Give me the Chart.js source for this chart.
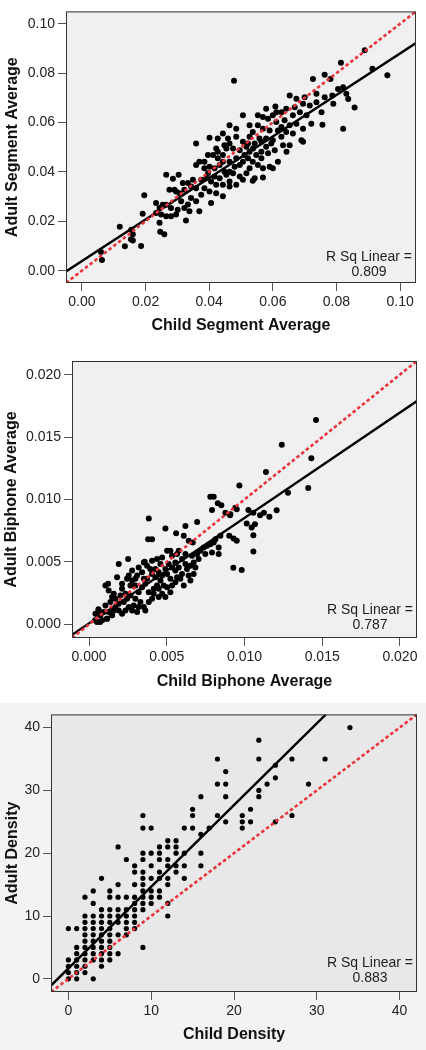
<!DOCTYPE html>
<html>
<head>
<meta charset="utf-8">
<script src="https://cdn.jsdelivr.net/npm/chart.js@4/dist/chart.umd.min.js"></script>
<style>
  html, body { margin: 0; padding: 0; background: #ffffff; }
  #wrap { position: relative; width: 426px; height: 1050px; overflow: hidden; }
  canvas { position: absolute; left: 0; }
  #segmentChart { top: 0; }
  #biphoneChart { top: 340px; }
  #densityBand { position: absolute; left: 0; top: 703px; width: 426px; height: 347px; background: #f3f3f3; }
  #densityChart { top: 703px; }
</style>
</head>
<body>
<div id="wrap">
  <canvas id="segmentChart" width="426" height="340"></canvas>
  <canvas id="biphoneChart" width="426" height="360"></canvas>
  <div id="densityBand"></div>
  <canvas id="densityChart" width="426" height="347"></canvas>
</div>
<script>
// Child vs adult scatter panels (segment, biphone, density)

// --- panel 1: segment average [child, adult] ---
const segmentPairs = [
    [0.0478, 0.0769], [0.0726, 0.0776], [0.0763, 0.0793], [0.0781, 0.0776], [0.0653, 0.0709],
    [0.0674, 0.0696], [0.0695, 0.0676], [0.0716, 0.0669], [0.0737, 0.0682], [0.0763, 0.0702],
    [0.0787, 0.0709], [0.0805, 0.0736], [0.0821, 0.0743], [0.0831, 0.0716], [0.0790, 0.0676],
    [0.0753, 0.0642], [0.0756, 0.0591], [0.0821, 0.0575], [0.0608, 0.0665], [0.0642, 0.0656],
    [0.0627, 0.0642], [0.0663, 0.0629], [0.0685, 0.0642], [0.0706, 0.0629], [0.0721, 0.0595],
    [0.0695, 0.0575], [0.0674, 0.0595], [0.0653, 0.0589], [0.0642, 0.0562], [0.0663, 0.0555],
    [0.0690, 0.0528], [0.0695, 0.0522], [0.0506, 0.0629], [0.0553, 0.0629], [0.0569, 0.0622],
    [0.0585, 0.0615], [0.0600, 0.0629], [0.0611, 0.0602], [0.0553, 0.0589], [0.0527, 0.0589],
    [0.0537, 0.0562], [0.0569, 0.0575], [0.0590, 0.0568], [0.0616, 0.0568], [0.0627, 0.0542],
    [0.0600, 0.0528], [0.0579, 0.0535], [0.0558, 0.0535], [0.0527, 0.0542], [0.0506, 0.0522],
    [0.0485, 0.0542], [0.0459, 0.0535], [0.0464, 0.0515], [0.0454, 0.0495], [0.0448, 0.0508],
    [0.0401, 0.0538], [0.0359, 0.0515], [0.0422, 0.0495], [0.0427, 0.0482], [0.0412, 0.0468],
    [0.0443, 0.0468], [0.0475, 0.0495], [0.0496, 0.0488], [0.0517, 0.0502], [0.0538, 0.0495],
    [0.0564, 0.0482], [0.0585, 0.0475], [0.0606, 0.0488], [0.0616, 0.0441], [0.0590, 0.0421],
    [0.0600, 0.0415], [0.0569, 0.0415], [0.0553, 0.0428], [0.0537, 0.0441], [0.0522, 0.0455],
    [0.0506, 0.0441], [0.0485, 0.0455], [0.0464, 0.0441], [0.0443, 0.0441], [0.0433, 0.0428],
    [0.0417, 0.0415], [0.0401, 0.0421], [0.0369, 0.0441], [0.0359, 0.0428], [0.0396, 0.0395],
    [0.0417, 0.0381], [0.0433, 0.0374], [0.0454, 0.0388], [0.0475, 0.0395], [0.0496, 0.0381],
    [0.0517, 0.0395], [0.0485, 0.0348], [0.0464, 0.0341], [0.0443, 0.0348], [0.0422, 0.0348],
    [0.0406, 0.0361], [0.0391, 0.0374], [0.0375, 0.0368], [0.0349, 0.0368], [0.0343, 0.0341],
    [0.0333, 0.0355], [0.0359, 0.0334], [0.0385, 0.0334], [0.0401, 0.0321], [0.0422, 0.0314],
    [0.0443, 0.0301], [0.0464, 0.0361], [0.0506, 0.0368], [0.0537, 0.0364], [0.0569, 0.0377],
    [0.0406, 0.0274], [0.0369, 0.0241], [0.0317, 0.0355], [0.0322, 0.0328], [0.0307, 0.0314],
    [0.0296, 0.0321], [0.0265, 0.0388], [0.0286, 0.0372], [0.0304, 0.0388], [0.0275, 0.0328],
    [0.0291, 0.0328], [0.0312, 0.0281], [0.0322, 0.0254], [0.0333, 0.0268], [0.0343, 0.0294],
    [0.0359, 0.0281], [0.0338, 0.0241], [0.0327, 0.0203], [0.0301, 0.0247], [0.0280, 0.0254],
    [0.0265, 0.0267], [0.0254, 0.0267], [0.0244, 0.0254], [0.0233, 0.0274], [0.0249, 0.0227],
    [0.0265, 0.0220], [0.0280, 0.0220], [0.0296, 0.0227], [0.0233, 0.0234], [0.0244, 0.0194],
    [0.0246, 0.0158], [0.0259, 0.0147], [0.0196, 0.0305], [0.0191, 0.0230], [0.0160, 0.0147],
    [0.0154, 0.0127], [0.0186, 0.0100], [0.0522, 0.0515], [0.0543, 0.0515], [0.0496, 0.0428],
    [0.0527, 0.0415], [0.0548, 0.0468], [0.0564, 0.0455], [0.0579, 0.0502], [0.0595, 0.0515],
    [0.0627, 0.0582], [0.0637, 0.0609], [0.0669, 0.0662], [0.0700, 0.0702], [0.0737, 0.0716],
    [0.0511, 0.0468], [0.0480, 0.0421], [0.0448, 0.0401], [0.0427, 0.0455], [0.0385, 0.0415],
    [0.0375, 0.0307], [0.0543, 0.0374], [0.0063, 0.0043], [0.0060, 0.0076], [0.0119, 0.0178],
    [0.0135, 0.0099], [0.0155, 0.0166], [0.0160, 0.0122], [0.0889, 0.0893], [0.0913, 0.0818],
    [0.0960, 0.0791], [0.0857, 0.0661], [0.0837, 0.0695], [0.0814, 0.0842], [0.0464, 0.0589],
    [0.0485, 0.0575], [0.0443, 0.0555], [0.0427, 0.0535], [0.0632, 0.0508], [0.0643, 0.0482],
    [0.0653, 0.0508], [0.0396, 0.0468], [0.0385, 0.0441], [0.0464, 0.0401], [0.0527, 0.0482],
    [0.0564, 0.0522], [0.0611, 0.0642], [0.0579, 0.0656]
];
const segmentFitX = [-0.005, 0.105];
const segmentFitY = [-0.0003, 0.0922];
const segmentTicks = [0.00, 0.02, 0.04, 0.06, 0.08, 0.10];
const segmentTickLabels = ['0.00', '0.02', '0.04', '0.06', '0.08', '0.10'];
const segmentRange = [-0.005, 0.105];
const segmentR2 = '0.809';

// --- panel 2: biphone average [child, adult] ---
const biphonePairs = [
    [0.00041, 0.00085], [0.00062, 0.00111], [0.00094, 0.00098], [0.00116, 0.00045], [0.00148, 0.00072],
    [0.00105, 0.00151], [0.00137, 0.00178], [0.00169, 0.00138], [0.00191, 0.00111], [0.00212, 0.00085],
    [0.00234, 0.00111], [0.00255, 0.00138], [0.00277, 0.00111], [0.00309, 0.00098], [0.00169, 0.00204],
    [0.00202, 0.00231], [0.00159, 0.00244], [0.00126, 0.00271], [0.00105, 0.00311], [0.00122, 0.00324],
    [0.00148, 0.00218], [0.00212, 0.00284], [0.00234, 0.00244], [0.00266, 0.00231], [0.00298, 0.00204],
    [0.00330, 0.00178], [0.00352, 0.00138], [0.00362, 0.00111], [0.00384, 0.00178], [0.00405, 0.00204],
    [0.00319, 0.00257], [0.00341, 0.00297], [0.00362, 0.00324], [0.00298, 0.00311], [0.00277, 0.00350],
    [0.00244, 0.00364], [0.00212, 0.00324], [0.00180, 0.00377], [0.00384, 0.00257], [0.00416, 0.00284],
    [0.00437, 0.00311], [0.00459, 0.00350], [0.00427, 0.00377], [0.00405, 0.00403], [0.00373, 0.00364],
    [0.00341, 0.00417], [0.00309, 0.00390], [0.00277, 0.00430], [0.00255, 0.00390], [0.00470, 0.00390],
    [0.00502, 0.00403], [0.00491, 0.00443], [0.00512, 0.00483], [0.00534, 0.00456], [0.00555, 0.00430],
    [0.00523, 0.00364], [0.00555, 0.00337], [0.00587, 0.00364], [0.00598, 0.00403], [0.00577, 0.00456],
    [0.00555, 0.00496], [0.00534, 0.00549], [0.00566, 0.00563], [0.00598, 0.00523], [0.00620, 0.00483],
    [0.00630, 0.00443], [0.00641, 0.00390], [0.00652, 0.00350], [0.00609, 0.00311], [0.00502, 0.00297],
    [0.00470, 0.00244], [0.00448, 0.00218], [0.00491, 0.00218], [0.00523, 0.00257], [0.00405, 0.00510],
    [0.00437, 0.00523], [0.00459, 0.00483], [0.00427, 0.00443], [0.00373, 0.00470], [0.00352, 0.00496],
    [0.00319, 0.00456], [0.00352, 0.00364], [0.00470, 0.00536], [0.00502, 0.00589], [0.00523, 0.00589],
    [0.00577, 0.00589], [0.00620, 0.00563], [0.00662, 0.00549], [0.00695, 0.00563], [0.00716, 0.00589],
    [0.00738, 0.00616], [0.00759, 0.00629], [0.00780, 0.00642], [0.00802, 0.00656], [0.00834, 0.00616],
    [0.00834, 0.00563], [0.00791, 0.00576], [0.00748, 0.00563], [0.00705, 0.00523], [0.00673, 0.00496],
    [0.00684, 0.00456], [0.00673, 0.00403], [0.00652, 0.00470], [0.00813, 0.00682], [0.00845, 0.00709],
    [0.00251, 0.00523], [0.00191, 0.00483], [0.00358, 0.00501], [0.00405, 0.00682], [0.00380, 0.00682],
    [0.00384, 0.00847], [0.00491, 0.00767], [0.00620, 0.00788], [0.00695, 0.00820], [0.00780, 0.01022],
    [0.00802, 0.01022], [0.00828, 0.00969], [0.00851, 0.00953], [0.00791, 0.00916], [0.00877, 0.00894],
    [0.00909, 0.00881], [0.00941, 0.00934], [0.00609, 0.00709], [0.00641, 0.00669], [0.00667, 0.00656],
    [0.00560, 0.00730], [0.01460, 0.01637], [0.01240, 0.01438], [0.01430, 0.01330], [0.01138, 0.01221],
    [0.01410, 0.01093], [0.01280, 0.01054], [0.01207, 0.00913], [0.01160, 0.00862], [0.01125, 0.00894],
    [0.01100, 0.00873], [0.01057, 0.00894], [0.01025, 0.00916], [0.00950, 0.00921], [0.00967, 0.01112],
    [0.00907, 0.00873], [0.00902, 0.00709], [0.00930, 0.00687], [0.00950, 0.00670], [0.01014, 0.00807],
    [0.01046, 0.00775], [0.01067, 0.00801], [0.01057, 0.00714], [0.01057, 0.00584], [0.00928, 0.00454],
    [0.00982, 0.00435], [0.00039, 0.00032], [0.00071, 0.00019], [0.00049, 0.00085], [0.00060, 0.00120],
    [0.00114, 0.00045], [0.00146, 0.00072], [0.00073, 0.00072], [0.00084, 0.00032], [0.00051, 0.00019],
    [0.00319, 0.00138], [0.00287, 0.00151], [0.00416, 0.00244], [0.00448, 0.00284], [0.00480, 0.00311],
    [0.00534, 0.00311], [0.00566, 0.00377], [0.00448, 0.00417], [0.00394, 0.00443], [0.00298, 0.00364],
    [0.00266, 0.00311], [0.00223, 0.00178], [0.00244, 0.00204], [0.00191, 0.00165], [0.00159, 0.00111],
    [0.00126, 0.00098]
];
const biphoneFitX = [-0.0011, 0.0211];
const biphoneFitY = [-0.00085, 0.0179];
const biphoneTicks = [0.000, 0.005, 0.010, 0.015, 0.020];
const biphoneTickLabels = ['0.000', '0.005', '0.010', '0.015', '0.020'];
const biphoneRange = [-0.0011, 0.0211];
const biphoneR2 = '0.787';

// --- panel 3: density, integer valued; adult values listed per child value ---
const densityChild = [0, 1, 2, 3, 4, 5, 6, 7, 8, 9, 10, 11, 12, 13, 14, 15, 16, 17, 18, 19, 21, 22, 23, 24, 25, 27, 29, 31, 34];
const densityAdult = [
    [8, 3, 2, 1, 0],
    [8, 5, 4, 3, 2, 1, 0],
    [13, 10, 9, 8, 7, 6, 5, 4, 3, 2, 1],
    [14, 12, 10, 9, 8, 7, 6, 5, 4, 3, 0],
    [16, 11, 10, 9, 8, 7, 6, 5, 4, 3, 2],
    [14, 13, 11, 10, 9, 8, 7, 6, 5, 4, 3],
    [21, 15, 13, 11, 10, 9, 7, 4],
    [19, 13, 11, 10, 9, 8, 7],
    [18, 17, 15, 13, 12, 11, 10, 9, 8],
    [26, 24, 20, 19, 17, 16, 15, 14, 13, 12, 11, 5],
    [24, 20, 18, 16, 14, 13, 12],
    [21, 20, 19, 17, 16, 14, 13],
    [22, 21, 19, 18, 16, 15, 12, 10],
    [22, 21, 20, 18, 17],
    [24, 20, 18, 16],
    [27, 26, 24],
    [29, 23, 20, 18],
    [24],
    [35, 31, 26],
    [33, 31, 29, 25],
    [26, 25, 24],
    [27, 25],
    [38, 35, 30, 29],
    [31],
    [34, 32, 25],
    [35, 26],
    [31],
    [35],
    [40]
];
const densityFitX = [-2.1, 31.1];
const densityFitY = [-1.07, 42.1];
const densityTicks = [0, 10, 20, 30, 40];
const densityTickLabels = ['0', '10', '20', '30', '40'];
const densityRange = [-2.1, 42.1];
const densityR2 = '0.883';

const FONT = "'Liberation Sans', Arial, sans-serif";

// plot background, full frame and the R Sq note
const framePlugin = {
    id: 'frame',
    beforeDatasetsDraw(chart, args, opts) {
        const a = chart.chartArea;
        const ctx = chart.ctx;
        ctx.save();
        ctx.fillStyle = opts.plotBg;
        ctx.fillRect(a.left, a.top, a.right - a.left, a.bottom - a.top);
        ctx.restore();
    },
    afterDatasetsDraw(chart, args, opts) {
        const a = chart.chartArea;
        const ctx = chart.ctx;
        ctx.save();
        ctx.strokeStyle = '#333333';
        ctx.lineWidth = 1;
        ctx.strokeRect(a.left + 0.5, a.top + 0.5, a.right - a.left - 1, a.bottom - a.top - 1);
        ctx.fillStyle = '#222222';
        ctx.font = '14px ' + FONT;
        ctx.textAlign = 'center';
        ctx.textBaseline = 'middle';
        const cx = a.right - opts.noteRight;
        ctx.fillText('R Sq Linear =', cx, a.bottom - opts.noteLine1);
        ctx.fillText(opts.r2, cx, a.bottom - opts.noteLine2);
        ctx.restore();
    }
};

function makePanel(id, cfg) {
    const points = cfg.points;
    const tickStyle = {
        color: '#222222',
        font: { family: FONT, size: 14 },
        padding: 3,
        callback: (value, index) => cfg.tickLabels[index]
    };
    const gridStyle = {
        display: true,
        drawOnChartArea: false,
        drawTicks: true,
        tickLength: 8,
        color: '#555555'
    };
    const ctx = document.getElementById(id).getContext('2d');
    return new Chart(ctx, {
        type: 'scatter',
        data: {
            datasets: [{
                type: 'line',
                data: [{ x: cfg.range[0], y: cfg.range[0] }, { x: cfg.range[1], y: cfg.range[1] }],
                borderColor: '#e8343c',
                borderWidth: 2.6,
                borderDash: [3.5, 2.5],
                pointRadius: 0,
                fill: false
            }, {
                type: 'line',
                data: [{ x: cfg.fitX[0], y: cfg.fitY[0] }, { x: cfg.fitX[1], y: cfg.fitY[1] }],
                borderColor: '#000000',
                borderWidth: 2.4,
                pointRadius: 0,
                fill: false
            }, {
                data: points.map(p => ({ x: p[0], y: p[1] })),
                backgroundColor: '#000000',
                borderWidth: 0,
                pointRadius: cfg.dot
            }]
        },
        options: {
            responsive: false,
            animation: false,
            events: [],
            layout: {
                padding: { top: cfg.padTop, right: cfg.padRight, left: 0, bottom: 0 }
            },
            scales: {
                x: {
                    type: 'linear',
                    min: cfg.range[0],
                    max: cfg.range[1],
                    afterBuildTicks: scale => { scale.ticks = cfg.ticks.map(v => ({ value: v })); },
                    afterFit: scale => { scale.height = cfg.xHeight; },
                    ticks: Object.assign({ maxRotation: 0, autoSkip: false }, tickStyle),
                    grid: gridStyle,
                    border: { display: false },
                    title: {
                        display: true,
                        text: cfg.xTitle,
                        color: '#111111',
                        font: { family: FONT, size: 16, weight: 'bold' },
                        padding: { top: 0, bottom: cfg.xTitlePad }
                    }
                },
                y: {
                    type: 'linear',
                    min: cfg.range[0],
                    max: cfg.range[1],
                    afterBuildTicks: scale => { scale.ticks = cfg.ticks.map(v => ({ value: v })); },
                    afterFit: scale => { scale.width = cfg.yWidth; },
                    ticks: Object.assign({ autoSkip: false }, tickStyle),
                    grid: gridStyle,
                    border: { display: false },
                    title: {
                        display: true,
                        text: cfg.yTitle,
                        color: '#111111',
                        font: { family: FONT, size: 16, weight: 'bold' },
                        padding: { top: cfg.yTitlePad, bottom: 0 }
                    }
                }
            },
            plugins: {
                legend: { display: false },
                tooltip: { enabled: false },
                frame: {
                    plotBg: cfg.plotBg,
                    r2: cfg.r2,
                    noteRight: 47,
                    noteLine1: cfg.note1,
                    noteLine2: cfg.note2
                }
            }
        },
        plugins: [framePlugin]
    });
}

const densityPairs = [];
densityChild.forEach((cx, i) => {
    densityAdult[i].forEach(ay => densityPairs.push([cx, ay]));
});

makePanel('segmentChart', {
    points: segmentPairs, fitX: segmentFitX, fitY: segmentFitY,
    ticks: segmentTicks, tickLabels: segmentTickLabels, range: segmentRange, r2: segmentR2,
    xTitle: 'Child Segment Average', yTitle: 'Adult Segment Average',
    padTop: 7, padRight: 10, yWidth: 66, xHeight: 57, xTitlePad: 5, yTitlePad: 3,
    plotBg: '#f0f0f0', dot: 3, note1: 26, note2: 11
});

makePanel('biphoneChart', {
    points: biphonePairs, fitX: biphoneFitX, fitY: biphoneFitY,
    ticks: biphoneTicks, tickLabels: biphoneTickLabels, range: biphoneRange, r2: biphoneR2,
    xTitle: 'Child Biphone Average', yTitle: 'Adult Biphone Average',
    padTop: 21, padRight: 9, yWidth: 72, xHeight: 62, xTitlePad: 9, yTitlePad: 2,
    plotBg: '#f0f0f0', dot: 3, note1: 28, note2: 13
});

makePanel('densityChart', {
    points: densityPairs, fitX: densityFitX, fitY: densityFitY,
    ticks: densityTicks, tickLabels: densityTickLabels, range: densityRange, r2: densityR2,
    xTitle: 'Child Density', yTitle: 'Adult Density',
    padTop: 11, padRight: 9, yWidth: 51, xHeight: 58, xTitlePad: 6, yTitlePad: 3,
    plotBg: '#e8e8e8', dot: 2.6, note1: 29, note2: 14
});
</script>
</body>
</html>
